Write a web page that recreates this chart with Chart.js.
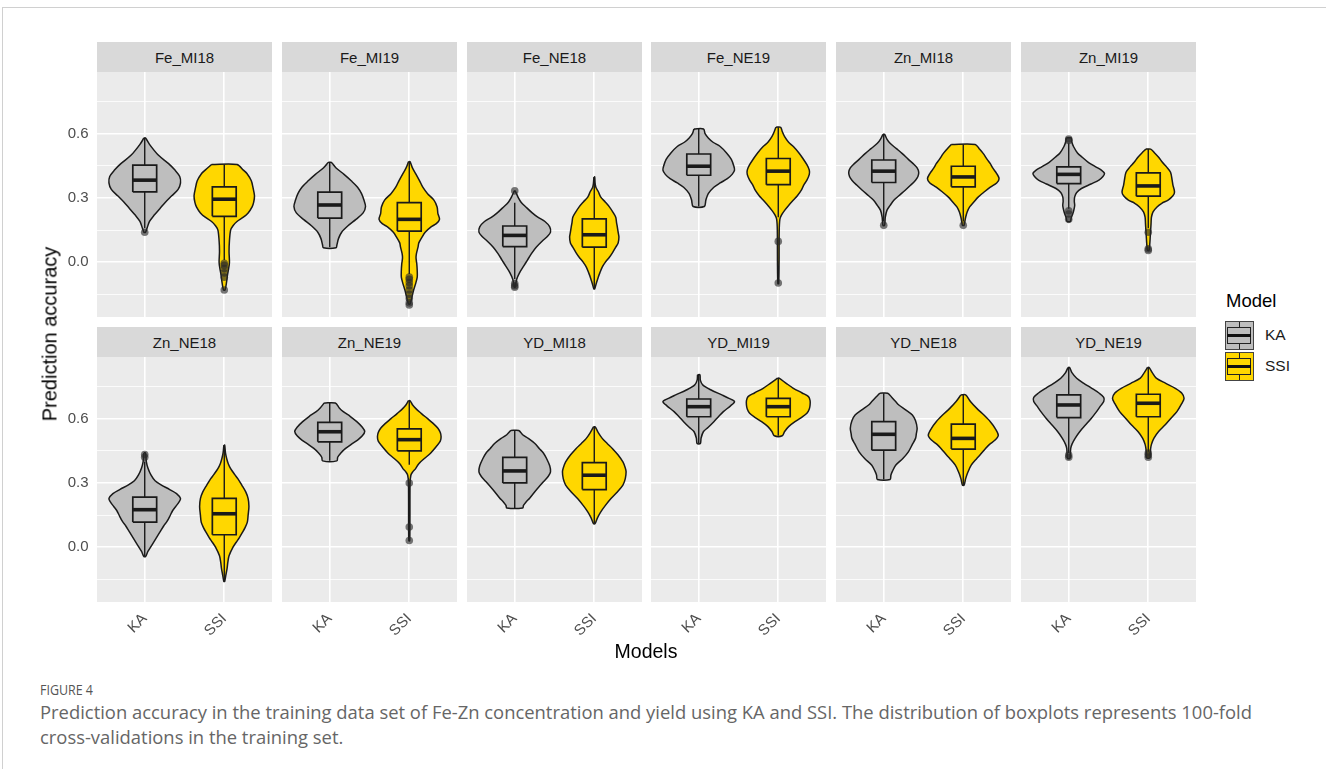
<!DOCTYPE html>
<html>
<head>
<meta charset="utf-8">
<script src="https://cdn.jsdelivr.net/npm/chart.js@4.4.1/dist/chart.umd.min.js"></script>
<style>
  body { margin: 0; width: 1326px; height: 769px; background: #fff; position: relative; overflow: hidden;
         font-family: "Liberation Sans", Arial, sans-serif; }
  #frame { position: absolute; left: 2px; top: 7px; width: 1330px; height: 770px;
           border-top: 1.5px solid #d0d0d0; border-left: 1.5px solid #d0d0d0; }
  .strip { position: absolute; width: 175px; height: 30px; background: #D9D9D9; color: #1A1A1A;
           font-size: 15px; line-height: 31px; text-align: center; }
  canvas { position: absolute; }
  .title { position: absolute; color: #000; font-size: 19.5px; white-space: nowrap; }
  .key { position: absolute; width: 29px; height: 29px; box-sizing: border-box; border: 1.5px solid #444; }
  .key .wh { position: absolute; left: 12.5px; top: 0; width: 1.5px; height: 100%; background: #222; }
  .key .bx { position: absolute; left: 1px; top: 4.5px; width: 24px; height: 17px; box-sizing: border-box;
             border: 1.5px solid #222; }
  .key .md { position: absolute; left: 1px; top: 12px; width: 24px; height: 2.5px; background: #111; }
  .klab { position: absolute; font-size: 15.5px; color: #1A1A1A; }
  .cap { position: absolute; left: 40px; white-space: nowrap; font-family: "Open Sans", sans-serif;
         transform-origin: 0 0; }
</style>
</head>
<body>
<div id="frame"></div>
<div id="plots"></div>

<div class="title" id="ytitle" style="left:50px;top:334px;font-size:20px;transform:translate(-50%,-50%) rotate(-90deg);">Prediction accuracy</div>
<div class="title" style="left:646px;top:651px;transform:translate(-50%,-50%);">Models</div>

<div class="title" style="left:1226px;top:290px;font-size:18.5px;">Model</div>
<div class="key" style="left:1225px;top:321px;background:#BEBEBE;">
  <div class="wh"></div><div class="bx" style="background:#BEBEBE"></div><div class="md"></div>
</div>
<div class="key" style="left:1225px;top:352px;background:#FFD700;">
  <div class="wh"></div><div class="bx" style="background:#FFD700"></div><div class="md"></div>
</div>
<div class="klab" style="left:1265px;top:326px;">KA</div>
<div class="klab" style="left:1265px;top:357px;">SSI</div>

<div class="cap" id="cap0" style="top:680px;font-size:14px;color:#555;">FIGURE 4</div>
<div class="cap" id="cap1" style="top:700px;font-size:18px;color:#666;">Prediction accuracy in the training data set of Fe-Zn concentration and yield using KA and SSI. The distribution of boxplots represents 100-fold</div>
<div class="cap" id="cap2" style="top:725px;font-size:18px;color:#666;">cross-validations in the training set.</div>

<script>
// Facets and groups
const PANELS = ["Fe_MI18", "Fe_MI19", "Fe_NE18", "Fe_NE19", "Zn_MI18", "Zn_MI19",
                "Zn_NE18", "Zn_NE19", "YD_MI18", "YD_MI19", "YD_NE18", "YD_NE19"];
const MODELS = ["KA", "SSI"];
const MODEL_POS = [1, 2];
const Y_TICKS = [-0.15, 0, 0.15, 0.3, 0.45, 0.6, 0.75];
const Y_LABELLED = [0, 0.3, 0.6];

// Violin outlines: [accuracy, half width], top to bottom
const KA_VIOLIN = [
  [[0.58,0.01],[0.55,0.06],[0.50,0.17],[0.46,0.30],[0.43,0.38],[0.40,0.44],[0.37,0.45],[0.34,0.42],[0.31,0.34],[0.28,0.26],[0.25,0.19],[0.22,0.12],[0.19,0.06],[0.16,0.03],[0.14,0.01]],
  [[0.466,0.02],[0.44,0.08],[0.41,0.18],[0.38,0.27],[0.35,0.35],[0.32,0.40],[0.29,0.43],[0.26,0.45],[0.23,0.42],[0.20,0.33],[0.17,0.23],[0.14,0.15],[0.11,0.11],[0.08,0.09],[0.067,0.08]],
  [[0.333,0.005],[0.305,0.04],[0.28,0.08],[0.258,0.14],[0.23,0.22],[0.21,0.29],[0.19,0.38],[0.165,0.44],[0.14,0.45],[0.12,0.41],[0.10,0.35],[0.07,0.27],[0.04,0.21],[0.01,0.16],[-0.02,0.11],[-0.05,0.06],[-0.08,0.025],[-0.117,0.005]],
  [[0.622,0.06],[0.60,0.08],[0.58,0.12],[0.56,0.18],[0.54,0.27],[0.51,0.35],[0.48,0.41],[0.45,0.44],[0.43,0.45],[0.41,0.42],[0.39,0.36],[0.37,0.27],[0.35,0.19],[0.32,0.12],[0.29,0.09],[0.26,0.07]],
  [[0.597,0.01],[0.575,0.04],[0.555,0.08],[0.53,0.16],[0.508,0.23],[0.48,0.31],[0.46,0.37],[0.44,0.42],[0.42,0.44],[0.40,0.43],[0.383,0.40],[0.36,0.34],[0.336,0.27],[0.31,0.19],[0.29,0.13],[0.265,0.08],[0.242,0.04],[0.21,0.02],[0.172,0.01]],
  [[0.58,0.03],[0.56,0.04],[0.54,0.06],[0.51,0.11],[0.49,0.17],[0.465,0.25],[0.445,0.34],[0.43,0.41],[0.414,0.45],[0.40,0.43],[0.383,0.38],[0.365,0.28],[0.344,0.16],[0.325,0.10],[0.305,0.075],[0.285,0.07],[0.265,0.075],[0.245,0.065],[0.225,0.05],[0.205,0.03],[0.19,0.02]],
  [[0.44,0.01],[0.40,0.02],[0.37,0.04],[0.336,0.08],[0.31,0.13],[0.29,0.21],[0.27,0.31],[0.25,0.40],[0.227,0.45],[0.21,0.43],[0.19,0.39],[0.17,0.35],[0.148,0.32],[0.12,0.28],[0.10,0.24],[0.07,0.19],[0.04,0.14],[0.01,0.09],[-0.02,0.04],[-0.044,0.01]],
  [[0.673,0.07],[0.65,0.12],[0.633,0.17],[0.61,0.26],[0.586,0.34],[0.56,0.41],[0.54,0.44],[0.52,0.41],[0.50,0.35],[0.48,0.27],[0.461,0.20],[0.44,0.14],[0.42,0.10],[0.403,0.09]],
  [[0.545,0.05],[0.525,0.10],[0.508,0.17],[0.485,0.25],[0.46,0.31],[0.44,0.36],[0.414,0.40],[0.38,0.44],[0.352,0.45],[0.33,0.42],[0.305,0.36],[0.28,0.30],[0.258,0.25],[0.23,0.19],[0.21,0.14],[0.195,0.11],[0.183,0.10]],
  [[0.805,0.015],[0.78,0.02],[0.758,0.05],[0.735,0.15],[0.711,0.29],[0.695,0.38],[0.68,0.45],[0.66,0.40],[0.633,0.31],[0.61,0.25],[0.586,0.19],[0.56,0.12],[0.54,0.06],[0.51,0.03],[0.484,0.02]],
  [[0.719,0.05],[0.70,0.10],[0.68,0.15],[0.664,0.19],[0.64,0.28],[0.617,0.36],[0.59,0.40],[0.555,0.42],[0.53,0.41],[0.508,0.40],[0.48,0.36],[0.445,0.31],[0.414,0.24],[0.383,0.15],[0.355,0.11],[0.336,0.09],[0.316,0.08]],
  [[0.839,0.01],[0.815,0.04],[0.789,0.10],[0.765,0.19],[0.742,0.29],[0.72,0.38],[0.70,0.44],[0.68,0.44],[0.66,0.40],[0.633,0.35],[0.60,0.28],[0.57,0.21],[0.54,0.14],[0.508,0.08],[0.48,0.04],[0.461,0.025],[0.43,0.02],[0.414,0.015]]
];
const SSI_VIOLIN = [
  [[0.456,0.16],[0.43,0.24],[0.414,0.285],[0.38,0.34],[0.35,0.36],[0.31,0.38],[0.28,0.37],[0.258,0.35],[0.23,0.30],[0.21,0.24],[0.19,0.16],[0.17,0.11],[0.15,0.08],[0.10,0.065],[0.05,0.06],[0.0,0.065],[-0.03,0.055],[-0.06,0.04],[-0.09,0.03],[-0.13,0.01]],
  [[0.469,0.01],[0.44,0.04],[0.414,0.08],[0.38,0.13],[0.35,0.17],[0.32,0.23],[0.29,0.31],[0.258,0.35],[0.227,0.36],[0.20,0.38],[0.18,0.34],[0.164,0.27],[0.14,0.20],[0.117,0.16],[0.09,0.12],[0.07,0.11],[0.04,0.09],[0.02,0.085],[-0.01,0.095],[-0.04,0.10],[-0.07,0.10],[-0.10,0.08],[-0.13,0.055],[-0.16,0.035],[-0.195,0.01]],
  [[0.398,0.005],[0.37,0.01],[0.35,0.02],[0.33,0.05],[0.305,0.08],[0.28,0.14],[0.258,0.19],[0.23,0.24],[0.21,0.27],[0.185,0.28],[0.164,0.29],[0.14,0.30],[0.117,0.31],[0.09,0.30],[0.07,0.27],[0.045,0.23],[0.023,0.19],[0.0,0.14],[-0.023,0.10],[-0.05,0.07],[-0.07,0.05],[-0.10,0.025],[-0.125,0.005]],
  [[0.63,0.03],[0.61,0.05],[0.586,0.08],[0.56,0.13],[0.54,0.19],[0.51,0.26],[0.484,0.31],[0.455,0.36],[0.43,0.39],[0.41,0.39],[0.383,0.36],[0.36,0.32],[0.336,0.29],[0.31,0.24],[0.29,0.19],[0.265,0.13],[0.242,0.08],[0.22,0.04],[0.20,0.02],[0.15,0.012],[0.0,0.01],[-0.10,0.005]],
  [[0.55,0.15],[0.53,0.20],[0.508,0.25],[0.48,0.30],[0.46,0.34],[0.44,0.37],[0.414,0.42],[0.39,0.45],[0.37,0.42],[0.35,0.34],[0.33,0.27],[0.305,0.19],[0.28,0.13],[0.258,0.08],[0.235,0.05],[0.21,0.03],[0.19,0.02],[0.172,0.01]],
  [[0.528,0.03],[0.51,0.08],[0.49,0.13],[0.465,0.18],[0.445,0.23],[0.42,0.28],[0.383,0.30],[0.36,0.31],[0.328,0.33],[0.31,0.31],[0.29,0.25],[0.275,0.17],[0.258,0.11],[0.235,0.06],[0.21,0.04],[0.18,0.035],[0.15,0.03],[0.12,0.025],[0.09,0.02],[0.055,0.01]],
  [[0.477,0.005],[0.44,0.015],[0.414,0.03],[0.39,0.05],[0.367,0.08],[0.34,0.13],[0.32,0.17],[0.29,0.22],[0.258,0.27],[0.227,0.30],[0.19,0.31],[0.15,0.30],[0.117,0.29],[0.09,0.26],[0.07,0.23],[0.045,0.19],[0.023,0.15],[0.0,0.11],[-0.04,0.06],[-0.07,0.045],[-0.10,0.035],[-0.13,0.02],[-0.16,0.005]],
  [[0.684,0.01],[0.665,0.04],[0.648,0.08],[0.625,0.15],[0.60,0.23],[0.578,0.30],[0.555,0.36],[0.535,0.39],[0.516,0.40],[0.495,0.39],[0.47,0.34],[0.44,0.27],[0.414,0.19],[0.39,0.12],[0.367,0.08],[0.35,0.04],[0.336,0.02],[0.30,0.01],[0.10,0.008],[0.03,0.005]],
  [[0.562,0.01],[0.535,0.05],[0.508,0.10],[0.485,0.16],[0.46,0.23],[0.43,0.30],[0.398,0.36],[0.37,0.39],[0.352,0.40],[0.32,0.39],[0.29,0.36],[0.258,0.29],[0.227,0.21],[0.195,0.14],[0.164,0.08],[0.137,0.04],[0.11,0.01]],
  [[0.789,0.01],[0.765,0.10],[0.742,0.19],[0.72,0.30],[0.703,0.38],[0.684,0.40],[0.664,0.40],[0.645,0.39],[0.625,0.36],[0.605,0.29],[0.586,0.21],[0.563,0.13],[0.54,0.08],[0.52,0.05]],
  [[0.711,0.03],[0.68,0.09],[0.648,0.17],[0.617,0.26],[0.586,0.34],[0.555,0.40],[0.523,0.44],[0.50,0.40],[0.48,0.33],[0.461,0.28],[0.43,0.21],[0.414,0.17],[0.383,0.10],[0.352,0.06],[0.32,0.03],[0.289,0.01]],
  [[0.839,0.01],[0.815,0.05],[0.789,0.10],[0.765,0.22],[0.742,0.34],[0.72,0.42],[0.695,0.45],[0.67,0.42],[0.633,0.36],[0.60,0.28],[0.57,0.21],[0.54,0.13],[0.508,0.07],[0.48,0.04],[0.461,0.03],[0.44,0.025],[0.417,0.02]]
];

// Boxplots: [lower whisker, Q1, median, Q3, upper whisker]
const KA_BOX = [
  [0.16, 0.328, 0.383, 0.453, 0.58], [0.07, 0.206, 0.267, 0.327, 0.466],
  [-0.078, 0.073, 0.125, 0.169, 0.277], [0.26, 0.406, 0.448, 0.505, 0.622],
  [0.19, 0.372, 0.425, 0.477, 0.597], [0.25, 0.367, 0.41, 0.445, 0.555],
  [-0.044, 0.117, 0.175, 0.234, 0.40], [0.403, 0.492, 0.539, 0.583, 0.673],
  [0.183, 0.30, 0.356, 0.419, 0.545], [0.484, 0.609, 0.656, 0.692, 0.805],
  [0.316, 0.453, 0.527, 0.586, 0.719], [0.44, 0.605, 0.664, 0.711, 0.839]
];
const SSI_BOX = [
  [0.01, 0.214, 0.294, 0.352, 0.456], [-0.055, 0.145, 0.20, 0.278, 0.469],
  [-0.125, 0.07, 0.128, 0.202, 0.39], [0.21, 0.362, 0.425, 0.484, 0.63],
  [0.19, 0.352, 0.398, 0.448, 0.55], [0.16, 0.308, 0.356, 0.417, 0.528],
  [-0.16, 0.058, 0.156, 0.228, 0.47], [0.385, 0.45, 0.502, 0.552, 0.684],
  [0.11, 0.269, 0.336, 0.395, 0.562], [0.52, 0.609, 0.656, 0.695, 0.789],
  [0.289, 0.458, 0.508, 0.575, 0.711], [0.445, 0.609, 0.672, 0.714, 0.839]
];
const KA_OUTLIERS = [
  [0.14], [], [0.333, -0.10, -0.11, -0.117], [], [0.172], [0.575, 0.568, 0.24, 0.225, 0.20],
  [0.433, 0.42], [], [], [], [], [0.43, 0.42]
];
const SSI_OUTLIERS = [
  [-0.005, -0.015, -0.03, -0.05, -0.07, -0.13],
  [-0.07, -0.08, -0.095, -0.11, -0.13, -0.15, -0.17, -0.19, -0.20],
  [], [0.097, -0.097], [0.172], [0.14, 0.062, 0.055], [], [0.30, 0.094, 0.031],
  [], [], [], [0.44, 0.43, 0.42]
];

// Layout
const FONT = "'Liberation Sans', Arial, sans-serif";
const PANEL_W = 175, PANEL_H = 245;
const COL_LEFT = [97, 282, 467, 651, 836, 1021];
const ROW_TOP = [72, 357];
const AXIS_W = 60, AXIS_H = 60, PAD_T = 24, PAD_R = 12;
const BOX_HALF = 0.15;
const FILLS = ["#BEBEBE", "#FFD700"];
const LINE = "#1A1A1A";

const panelBg = {
  id: "panelBg",
  beforeDraw(chart) {
    const { ctx, chartArea: a } = chart;
    ctx.save();
    ctx.fillStyle = "#EBEBEB";
    ctx.fillRect(a.left, a.top, a.right - a.left, a.bottom - a.top);
    ctx.restore();
  },
};

function violinPoints(outline, pos) {
  const left = outline.map(([y, w]) => ({ x: pos - w, y }));
  const right = outline.slice().reverse().map(([y, w]) => ({ x: pos + w, y }));
  return left.concat(right, [left[0]]);
}

function groupDatasets(outline, box, outliers, pos, fill) {
  const [lo, q1, med, q3, hi] = box;
  const base = { showLine: true, pointRadius: 0, borderColor: LINE };
  return [
    { ...base, data: violinPoints(outline, pos), fill: "shape", backgroundColor: fill,
      borderWidth: 1.5, tension: 0.3, order: 5 },
    { ...base, data: [{ x: pos, y: lo }, { x: pos, y: hi }], borderWidth: 1.4, order: 4 },
    { ...base, data: [{ x: pos - BOX_HALF, y: q1 }, { x: pos + BOX_HALF, y: q1 }, { x: pos + BOX_HALF, y: q3 },
                      { x: pos - BOX_HALF, y: q3 }, { x: pos - BOX_HALF, y: q1 }],
      fill: "shape", backgroundColor: fill, borderWidth: 1.7, order: 3 },
    { ...base, data: [{ x: pos - BOX_HALF, y: med }, { x: pos + BOX_HALF, y: med }], borderWidth: 3.6,
      borderCapStyle: "butt", order: 2 },
    { data: outliers.map((v) => ({ x: pos, y: v })), pointRadius: 3.8, pointBackgroundColor: "rgba(40,40,40,0.62)",
      pointBorderWidth: 0, showLine: false, order: 1 },
  ];
}

const isMajor = (v) => Y_LABELLED.some((m) => Math.abs(m - v) < 1e-9);

function drawPanel(i) {
  const col = i % 6, row = Math.floor(i / 6);
  const left = COL_LEFT[col], top = ROW_TOP[row];
  const host = document.getElementById("plots");

  const strip = document.createElement("div");
  strip.className = "strip";
  strip.style.left = left + "px";
  strip.style.top = top - 30 + "px";
  strip.textContent = PANELS[i];
  host.appendChild(strip);

  const canvas = document.createElement("canvas");
  canvas.width = AXIS_W + PANEL_W + PAD_R;
  canvas.height = PAD_T + PANEL_H + AXIS_H;
  canvas.style.left = left - AXIS_W + "px";
  canvas.style.top = top - PAD_T + "px";
  host.appendChild(canvas);

  const datasets = [
    ...groupDatasets(KA_VIOLIN[i], KA_BOX[i], KA_OUTLIERS[i], MODEL_POS[0], FILLS[0]),
    ...groupDatasets(SSI_VIOLIN[i], SSI_BOX[i], SSI_OUTLIERS[i], MODEL_POS[1], FILLS[1]),
  ];

  new Chart(canvas, {
    type: "scatter",
    data: { datasets },
    options: {
      responsive: false,
      animation: false,
      events: [],
      layout: { padding: { top: PAD_T, right: PAD_R, left: 0, bottom: 0 } },
      plugins: { legend: { display: false }, tooltip: { enabled: false } },
      scales: {
        x: {
          type: "linear", min: 0.4, max: 2.6,
          afterBuildTicks: (s) => { s.ticks = MODEL_POS.map((v) => ({ value: v })); },
          afterFit: (s) => { s.height = AXIS_H; },
          border: { display: false },
          grid: { color: "#FFFFFF", lineWidth: 1.6, drawTicks: false },
          ticks: {
            display: row === 1, minRotation: 45, maxRotation: 45, padding: 8,
            color: "#4D4D4D", font: { family: FONT, size: 15 },
            callback: (v) => MODELS[MODEL_POS.indexOf(v)],
          },
        },
        y: {
          type: "linear", min: -0.256, max: 0.888,
          afterBuildTicks: (s) => { s.ticks = Y_TICKS.map((v) => ({ value: v })); },
          afterFit: (s) => { s.width = AXIS_W; },
          border: { display: false },
          grid: { color: "#FFFFFF", drawTicks: false,
                  lineWidth: (ctx) => (ctx.tick && isMajor(ctx.tick.value) ? 1.6 : 0.8) },
          ticks: {
            display: col === 0, padding: 8.5, color: "#4D4D4D", font: { family: FONT, size: 15 },
            callback: (v) => (isMajor(v) ? v.toFixed(1) : ""),
          },
        },
      },
    },
    plugins: [panelBg],
  });
}

PANELS.forEach((p, i) => drawPanel(i));

// Fit the caption lines to the figure's line widths
function fitCaption() {
  const c1 = document.getElementById("cap1");
  const s = 1212 / c1.getBoundingClientRect().width;
  ["cap1", "cap2"].forEach((id) => { document.getElementById(id).style.transform = `scaleX(${s})`; });
  const c0 = document.getElementById("cap0");
  c0.style.transform = `scaleX(${53 / c0.getBoundingClientRect().width})`;
}
if (document.fonts && document.fonts.ready) document.fonts.ready.then(fitCaption); else fitCaption();
</script>
</body>
</html>
